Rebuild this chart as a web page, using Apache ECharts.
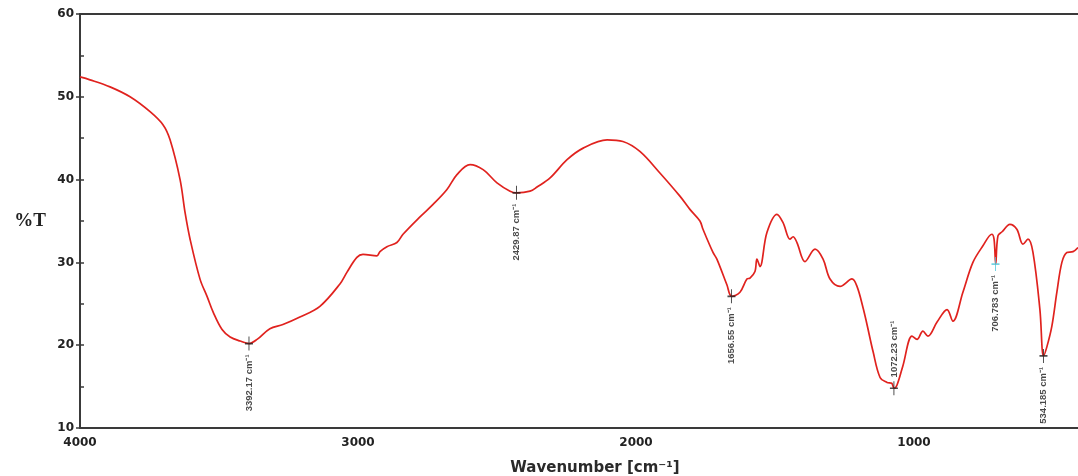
<!DOCTYPE html>
<html>
<head>
<meta charset="utf-8">
<title>FTIR spectrum</title>
<script src="https://cdn.jsdelivr.net/npm/echarts@6/dist/echarts.min.js"></script>
<style>
  html, body { margin: 0; padding: 0; background: #ffffff; }
  #chart { width: 1078px; height: 476px; }
</style>
</head>
<body>
<div id="chart"></div>
<script>
// Transmission spectrum, wavenumber in cm-1 (descending) and %T
const wavenumbers = [
  4000, 3964, 3892, 3820, 3748, 3701, 3676, 3640, 3622, 3604,
  3568, 3543, 3521, 3489, 3460, 3424, 3392, 3363, 3317, 3270,
  3209, 3137, 3065, 3040, 3004, 2982, 2932, 2921, 2896, 2860,
  2838, 2777, 2730, 2680, 2644, 2597, 2550, 2500, 2453, 2430,
  2381, 2356, 2309, 2248, 2190, 2104, 2047, 1986, 1914, 1842,
  1806, 1770, 1759, 1723, 1709, 1673, 1656, 1626, 1601, 1590,
  1572, 1565, 1554, 1529, 1493, 1471, 1446, 1435, 1421, 1392,
  1356, 1327, 1302, 1266, 1223, 1205, 1183, 1169, 1147, 1122,
  1097, 1080, 1072, 1061, 1040, 1007, 989, 968, 950, 917,
  881, 860, 824, 788, 752, 720, 712, 706, 698, 683,
  655, 630, 608, 590, 572, 547, 534, 522, 504, 486,
  468, 450, 428, 410
];
const transmittance = [
  52.4, 52.05, 51.2, 50.0, 48.2, 46.6, 44.8, 40.0, 36.0, 32.8,
  27.95, 25.9, 24.0, 21.9, 21.0, 20.5, 20.2, 20.7, 22.0, 22.5,
  23.4, 24.7, 27.4, 28.8, 30.6, 30.96, 30.8, 31.3, 31.9, 32.4,
  33.4, 35.5, 37.0, 38.8, 40.6, 41.8, 41.2, 39.6, 38.6, 38.4,
  38.6, 39.1, 40.2, 42.4, 43.8, 44.8, 44.6, 43.4, 40.8, 38.0,
  36.4, 35.0, 34.0, 31.2, 30.4, 27.3, 25.9, 26.4, 28.0, 28.1,
  28.9, 30.4, 29.5, 33.6, 35.8, 34.8, 32.8, 33.1, 32.4, 30.1,
  31.6, 30.4, 28.0, 27.1, 28.0, 27.1, 24.5, 22.5, 19.2, 16.1,
  15.5, 15.4, 14.8, 15.2, 17.5, 21.1, 20.7, 21.7, 21.1, 22.8,
  24.3, 22.9, 26.4, 30.0, 32.0, 33.4, 32.8, 29.8, 33.2, 33.7,
  34.6, 34.0, 32.2, 32.8, 31.2, 24.3, 18.7, 19.8, 22.3, 26.4,
  30.0, 31.2, 31.3, 31.8
];

// Labelled band positions
const peakWavenumbers = [3392.17, 2429.87, 1656.55, 1072.23, 706.783, 534.185];
const peakTransmittance = [20.2, 38.4, 25.9, 14.8, 29.8, 18.7];
const peakTexts = ['3392.17 cm\u207B\u00B9', '2429.87 cm\u207B\u00B9', '1656.55 cm\u207B\u00B9',
                   '1072.23 cm\u207B\u00B9', '706.783 cm\u207B\u00B9', '534.185 cm\u207B\u00B9'];

// Axis tick labels
const xTickValues = [4000, 3000, 2000, 1000];
const yTickValues = [10, 20, 30, 40, 50, 60];

const spectrum = wavenumbers.map((w, i) => [w, transmittance[i]]);

// bands whose label sits above the marker
const labelAbove = new Set([1072.23]);

const peaks = peakWavenumbers.map((w, i) => {
  const above = labelAbove.has(w);
  return {
    value: [w, peakTransmittance[i]],
    itemStyle: w === 706.783 ? { borderColor: '#4fc8dc' } : undefined,
    label: {
      formatter: peakTexts[i],
      position: above ? 'top' : 'bottom',
      align: above ? 'left' : 'right',
      verticalAlign: 'middle',
      distance: 3
    }
  };
});

const axisLineStyle = { color: '#3a3a3a', width: 2 };
const tickFont = { fontFamily: 'DejaVu Sans', fontWeight: 'bold', fontSize: 12, color: '#222' };

const chart = echarts.init(document.getElementById('chart'), null, { renderer: 'canvas' });
chart.setOption({
  animation: false,
  backgroundColor: '#ffffff',
  grid: { left: 80, right: 0, top: 14, bottom: 48, outerBoundsMode: 'none', containLabel: false },
  xAxis: [
    {
      type: 'value',
      inverse: true,
      min: 410,
      max: 4000,
      position: 'bottom',
      name: 'Wavenumber [cm\u207B\u00B9]',
      nameLocation: 'middle',
      nameGap: 33,
      nameTextStyle: { fontFamily: 'DejaVu Sans', fontWeight: 'bold', fontSize: 15, color: '#2a2a2a', padding: [0, 0, 0, 32] },
      axisLine: { show: true, onZero: false, lineStyle: axisLineStyle },
      axisTick: { show: false },
      splitLine: { show: false },
      axisLabel: Object.assign({ customValues: xTickValues, margin: 9, formatter: v => String(v) }, tickFont)
    },
    {
      type: 'value',
      inverse: true,
      min: 410,
      max: 4000,
      position: 'top',
      axisLine: { show: true, onZero: false, lineStyle: axisLineStyle },
      axisTick: { show: false },
      axisLabel: { show: false },
      splitLine: { show: false }
    }
  ],
  yAxis: [
    {
      type: 'value',
      min: 10,
      max: 60,
      interval: 10,
      name: '%T',
      nameLocation: 'middle',
      nameRotate: 0,
      nameGap: 34,
      nameTextStyle: { fontFamily: 'Liberation Serif', fontWeight: 'bold', fontSize: 19, color: '#222' },
      axisLine: { show: true, onZero: false, lineStyle: axisLineStyle },
      axisTick: { show: true, length: 4, lineStyle: { color: '#3a3a3a', width: 1.5 } },
      splitLine: { show: false },
      axisLabel: Object.assign({ customValues: yTickValues, margin: 6, formatter: v => String(v) }, tickFont)
    },
    {
      // inner tick marks every 5 %T
      type: 'value',
      min: 10,
      max: 60,
      interval: 5,
      position: 'left',
      axisLine: { show: false },
      axisTick: { show: true, inside: true, length: 4, lineStyle: { color: '#3a3a3a', width: 1.5 } },
      axisLabel: { show: false },
      splitLine: { show: false }
    }
  ],
  series: [
    {
      name: 'spectrum',
      type: 'line',
      data: spectrum,
      smooth: 0.35,
      showSymbol: false,
      clip: true,
      lineStyle: { color: '#e0221e', width: 1.7 },
      z: 2
    },
    {
      name: 'bands',
      type: 'scatter',
      data: peaks,
      symbol: 'path://M5,0L5,14M1,7L9,7',
      symbolSize: [8, 14],
      itemStyle: { color: 'rgba(0,0,0,0)', borderColor: '#222', borderWidth: 1.3 },
      label: {
        show: true,
        rotate: 90,
        fontFamily: 'Liberation Sans Narrow, Liberation Sans, sans-serif',
        fontSize: 9.5,
        fontWeight: 'bold',
        color: '#1a1a1a'
      },
      z: 3
    }
  ]
});
</script>
</body>
</html>
